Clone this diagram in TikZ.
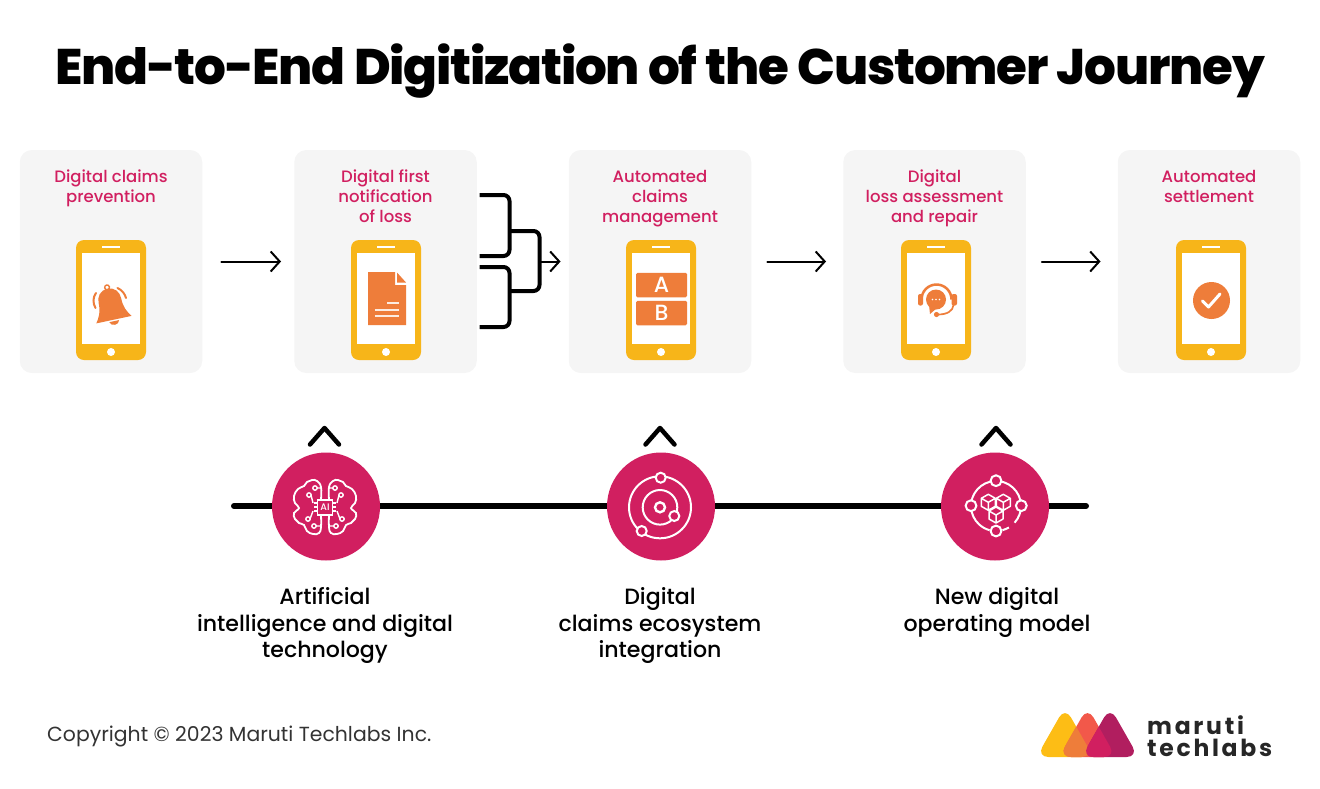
\documentclass[tikz,border=0pt]{standalone}
\usepackage{fontspec}
\setmainfont{Poppins}
\newfontfamily\medfont{Poppins Medium}
\newfontfamily\headfont[LetterSpace=-2.55]{Poppins ExtraBold}
\newfontfamily\logofont[LetterSpace=11.5]{Poppins Bold}
\usetikzlibrary{arrows.meta}

\definecolor{cardgrey}{HTML}{F5F5F5}
\definecolor{phoneamber}{HTML}{F7B519}
\definecolor{iconorange}{HTML}{EE7D3A}
\definecolor{rosepink}{HTML}{D11F60}
\definecolor{logoyellow}{HTML}{FDBD15}
\definecolor{logored}{HTML}{F2584A}
\definecolor{logoplum}{HTML}{B11E5F}

\newcommand{\logoblob}[1]{[rounded corners=12pt] (#1,707) -- (#1+28.5,757) -- (#1-28.5,757) -- cycle}

\begin{document}
\begin{tikzpicture}[%
  x=1pt, y=-1pt,
  cardbox/.style={fill=cardgrey, rounded corners=12pt, minimum width=182.5pt, minimum height=223pt, inner sep=0pt},
  cardtitle/.style={text=rosepink, align=center, anchor=north, execute at begin node={\rule{0pt}{15pt}}, font={\medfont\fontsize{16.5}{20}\selectfont}},
  phonebody/.style={fill=phoneamber, rounded corners=8pt, minimum width=70pt, minimum height=120pt, inner sep=0pt},
  phonescreen/.style={fill=white, minimum width=58pt, minimum height=91pt, inner sep=0pt},
  flowarrow/.style={line width=2pt, line cap=round, -{Straight Barb[length=9pt,width=20pt,line width=2pt]}},
  forkline/.style={line width=4pt, rounded corners=6pt},
  iconline/.style={draw=white, line width=2pt},
  ringdot/.style={draw=white, fill=rosepink, line width=2pt},
  hubcircle/.style={circle, fill=rosepink, minimum size=108pt, inner sep=0pt},
  chevron/.style={line width=4.5pt, line cap=round, line join=round},
  abbox/.style={fill=iconorange, rounded corners=1.5pt, minimum width=51pt, minimum height=24.5pt, inner sep=0pt, text=white, font={\medfont\fontsize{22}{22}\selectfont}},
  hublabel/.style={align=center, anchor=north, execute at begin node={\rule{0pt}{17pt}}, font={\medfont\fontsize{22.1}{26.5}\selectfont}}]

  \useasboundingbox (0,0) rectangle (1320,788);

  \node[anchor=base, inner sep=0pt, font={\headfont\fontsize{50}{60}\selectfont}] (title) at (660,84) {End-to-End Digitization of the Customer Journey};

  % cards with their phones
  \foreach \n/\cx/\px in {1/111/111, 2/385.5/386, 3/660/661, 4/934.5/936, 5/1209/1211} {
    \node[cardbox] (card\n) at (\cx,261.5) {};
    \node[phonebody] (phone\n) at (\px,300) {};
    \node[phonescreen] (screen\n) at (\px,298.5) {};
    \fill[white] (\px,352) circle (4pt);
    \draw[white, line width=1.2pt] (\px-9,247) -- (\px+9,247);
  }

  \node[cardtitle] (title1) at (111,166.5) {Digital claims\\prevention};
  \node[cardtitle] (title2) at (385.5,166.5) {Digital first\\notification\\of loss};
  \node[cardtitle] (title3) at (660,166.5) {Automated\\claims\\management};
  \node[cardtitle] (title4) at (934.5,166.5) {Digital\\loss assessment\\and repair};
  \node[cardtitle] (title5) at (1209,166.5) {Automated\\settlement};

  % arrows between cards
  \draw[flowarrow, shorten <=19pt, shorten >=13pt] (card1.east) -- (card2.west);
  \draw[flowarrow, shorten <=16pt, shorten >=17pt] (card3.east) -- (card4.west);
  \draw[flowarrow, shorten <=16pt, shorten >=17pt] (card4.east) -- (card5.west);

  % the fork into card 3
  \coordinate (forka) at (479.5,195);
  \coordinate (forkb) at (479.5,256);
  \coordinate (forkc) at (479.5,267);
  \coordinate (forkd) at (479.5,327);
  \coordinate (forkup) at (509.5,231);
  \coordinate (forklow) at (509.5,291);
  \coordinate (forkright) at (539.5,261.5);
  \draw[forkline] (forka) -| (forkup) |- (forkb);
  \draw[forkline] (forkc) -| (forklow) |- (forkd);
  \draw[forkline] (forkup) -| (forkright) |- (forklow);
  \draw[flowarrow, shorten >=8pt] (forkright) -- (card3.west);

  % bell
  \begin{scope}[shift={(110.5,303.5)}, rotate=12]
    \fill[iconorange] (0,-15) .. controls (-8,-15) and (-11.5,-9) .. (-11.5,-3)
      .. controls (-11.5,6) and (-14,11) .. (-18,16.5) -- (18,16.5)
      .. controls (14,11) and (11.5,6) .. (11.5,-3)
      .. controls (11.5,-9) and (8,-15) .. (0,-15) -- cycle;
    \draw[iconorange, line width=1.4pt] (0,-16.5) circle (2.4pt);
    \fill[iconorange] (-5,18) .. controls (-4,23) and (4,23) .. (5,18) -- cycle;
  \end{scope}
  \draw[iconorange, line width=2pt, line cap=round] (95.5,308) .. controls (92.5,303) and (93,297) .. (96,293);
  \draw[iconorange, line width=2pt, line cap=round] (117.5,288) .. controls (122,290) and (125,294) .. (126,298);

  % document
  \fill[iconorange] (368,272) -- (395,272) -- (395,285) -- (406,285) -- (406,325) -- (368,325) -- cycle;
  \fill[iconorange] (397,272.5) -- (406,282.5) -- (397,282.5) -- cycle;
  \draw[white!85!iconorange, line width=2pt] (387,303) -- (399,303) (374.5,309.5) -- (399,309.5) (374.5,316) -- (399,316);

  % A and B boxes
  \node[abbox] (boxa) at (661.5,285) {A};
  \node[abbox] (boxb) at (661.5,313) {B};

  % headset
  \draw[iconorange, line width=2.5pt] (921.5,299.5) arc (180:360:15);
  \fill[iconorange, rounded corners=2pt] (918,294) rectangle (923,305.5);
  \fill[iconorange, rounded corners=2pt] (951.5,294) rectangle (957,305.5);
  \fill[iconorange] (936,299.5) circle (10pt);
  \fill[iconorange] (929,305) -- (930,314) -- (937,308) -- cycle;
  \draw[iconorange, line width=1.7pt] (953.5,305) .. controls (953,311) and (947,314.5) .. (938,314.5);
  \fill[iconorange] (936.5,314.5) circle (2.6pt);
  \foreach \dx in {-3.5,0,3.5} \fill[white] (936+\dx,299.5) circle (0.8pt);

  % check mark
  \fill[iconorange] (1211.5,300.5) circle (18.5pt);
  \draw[white, line width=3pt, line cap=round, line join=round] (1202.5,301) -- (1208.5,307) -- (1220,294);

  % timeline with hubs
  \coordinate (linestart) at (234,506);
  \coordinate (lineend) at (1086,506);
  \draw[line width=6pt, line cap=round] (linestart) -- (lineend);
  \node[hubcircle] (hub1) at (326,506.5) {};
  \node[hubcircle] (hub2) at (661,506.5) {};
  \node[hubcircle] (hub3) at (995,506.5) {};

  \foreach \n/\cx in {1/324.5, 2/660, 3/996} {
    \draw[chevron] (\cx-14.5,444.5) -- (\cx,428) -- (\cx+14.5,444.5);
  }

  % brain, one half and its mirror
  \foreach \side in {1,-1} {
    \begin{scope}[shift={(325,507)}, xscale=\side]
      \draw[iconline, line width=1.8pt] plot[smooth, tension=0.75] coordinates {(-4,-8) (-4,-20) (-8,-26) (-13,-27) (-18,-25) (-21,-21) (-27,-18) (-31,-11) (-30,-4) (-26,1) (-31,6) (-30,12) (-26,16) (-21,18) (-18,24) (-12,27) (-6,26) (-4,20) (-4,8)};
      \draw[iconline, line width=1.4pt] (-10,-19) circle (2.2pt) (-16,-12) circle (2.2pt) (-17,12) circle (2.2pt) (-11,19) circle (2.2pt);
      \draw[iconline, line width=1.4pt] (-8,-19) -- (-4,-19) (-14,-12) -- (-12,-4) (-15,12) -- (-12,4) (-9,19) -- (-4,19);
      \draw[iconline, line width=1.2pt] (-6,-4) -- (-11,-4) (-6,0) -- (-11,0) (-6,4) -- (-11,4);
    \end{scope}
  }
  \node[draw=white, fill=rosepink, line width=1.7pt, minimum size=15pt, inner sep=0pt, text=white, font={\medfont\fontsize{9.5}{9.5}\selectfont}] (chip) at (325,507.5) {AI};

  % orbits
  \draw[iconline] (660,507.3) circle (31pt);
  \draw[iconline] (660,507.3) circle (17.3pt);
  \draw[iconline, line width=2.4pt] (660,507.3) circle (5pt);
  \draw[ringdot] (660.7,477.7) circle (5pt);
  \draw[ringdot] (674.3,516) circle (5pt);
  \draw[ringdot] (641.7,531) circle (5pt);

  % network of cubes
  \draw[iconline] (996,506) ++(42:25) arc (42:-255:25);
  \draw[iconline] (996,506) ++(59:25) arc (59:75:25);
  \draw[ringdot] (996,480.7) circle (5.4pt);
  \draw[ringdot] (971,505.7) circle (5.4pt);
  \draw[ringdot] (1021.3,505.7) circle (5.4pt);
  \draw[ringdot] (996,531) circle (5.4pt);
  \foreach \dx/\dy in {-7.7/-3.7, 7.3/-3.7, 0/9} {
    \begin{scope}[shift={(996+\dx,506+\dy)}]
      \draw[iconline, line width=1.5pt, line join=round] (0,-8) -- (7,-4) -- (7,4) -- (0,8) -- (-7,4) -- (-7,-4) -- cycle (-7,-4) -- (0,0) -- (7,-4) (0,0) -- (0,8);
    \end{scope}
  }

  % hub labels
  \node[hublabel] (label1) at (325,584) {Artificial\\intelligence and digital\\technology};
  \node[hublabel] (label2) at (660,584) {Digital\\claims ecosystem\\integration};
  \node[hublabel] (label3) at (997,584) {New digital\\operating model};

  % footer
  \node[anchor=west, inner sep=0pt, text=black!80, font={\fontsize{20.4}{24}\selectfont}] (copyright) at (47,736.5) {Copyright © 2023 Maruti Techlabs Inc.};

  % logo
  \fill[logoyellow] \logoblob{1065};
  \fill[logored] \logoblob{1087.5};
  \fill[logoplum] \logoblob{1110};
  \begin{scope}
    \clip \logoblob{1065};
    \fill[iconorange] \logoblob{1087.5};
  \end{scope}
  \begin{scope}
    \clip \logoblob{1087.5};
    \fill[rosepink] \logoblob{1110};
  \end{scope}
  \node[anchor=west, inner sep=0pt, text=black!85, font={\logofont\fontsize{23.5}{23.5}\selectfont}] (logotop) at (1147,725) {maruti};
  \node[anchor=west, inner sep=0pt, text=black!85, font={\logofont\fontsize{23.5}{23.5}\selectfont}] (logobottom) at (1147,748) {techlabs};
\end{tikzpicture}
\end{document}
